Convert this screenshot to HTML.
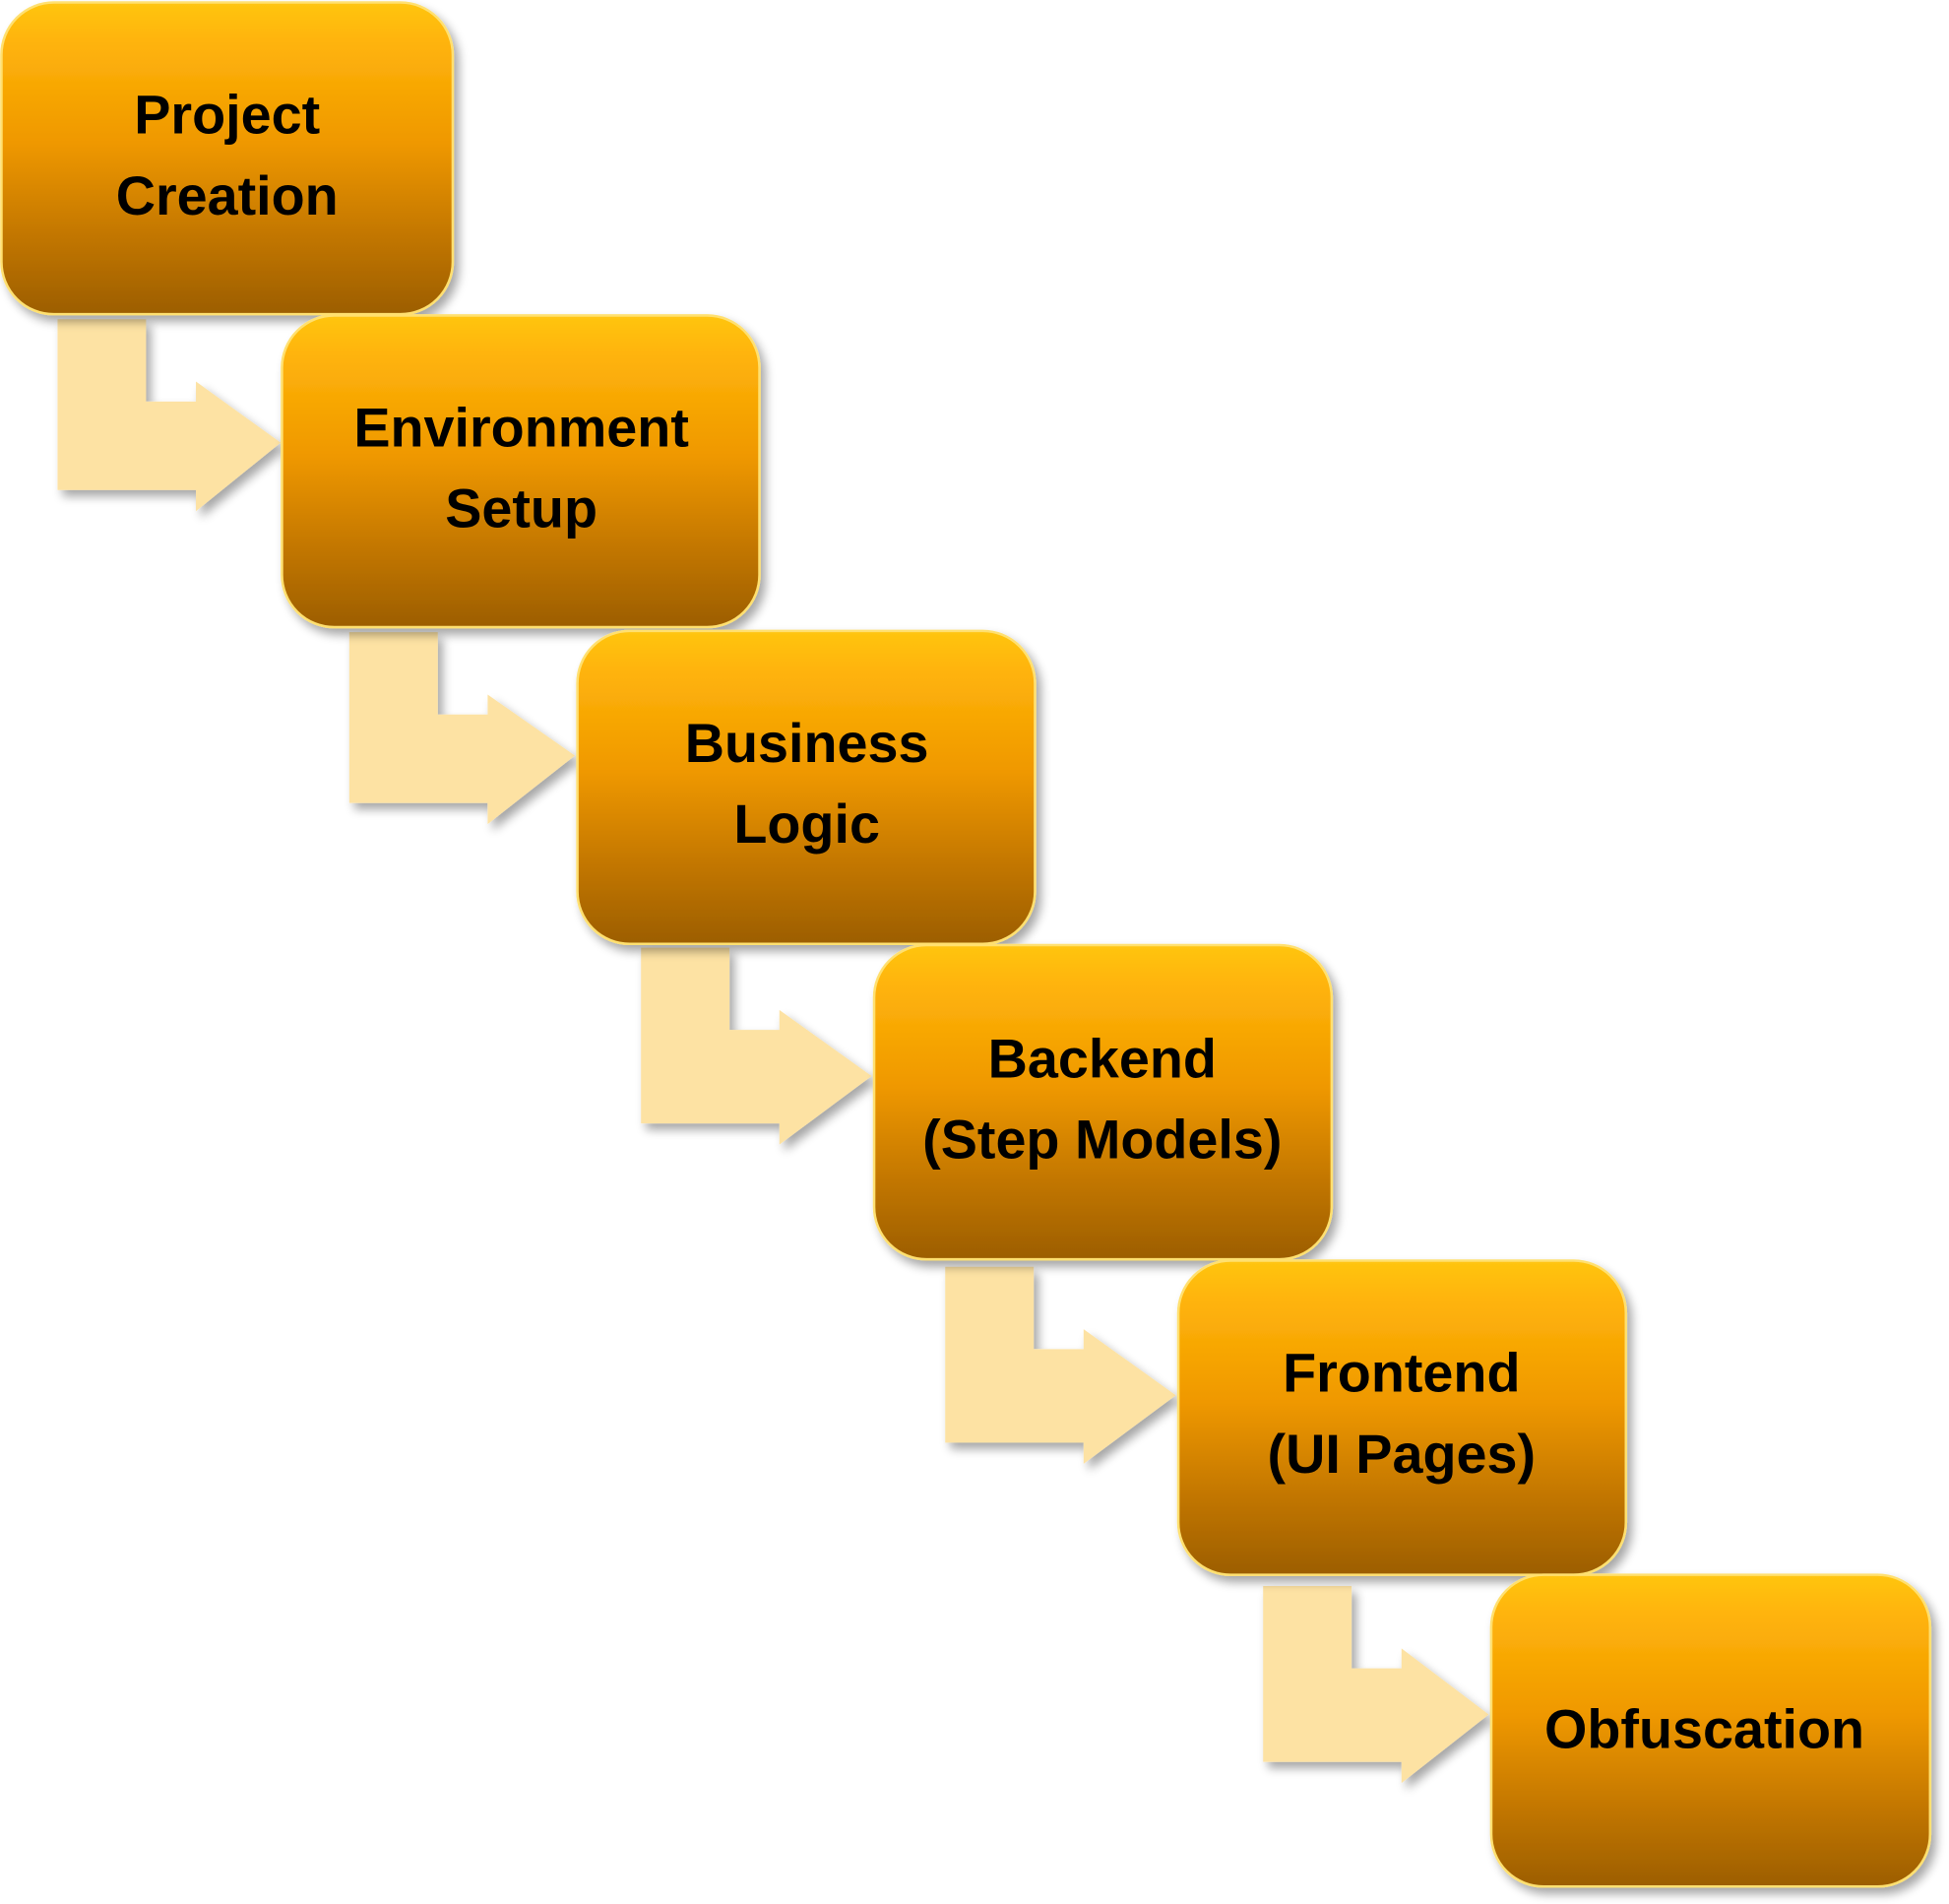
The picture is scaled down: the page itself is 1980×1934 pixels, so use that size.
<!DOCTYPE html>
<html><head><meta charset="utf-8"><style>
html,body{margin:0;padding:0;background:#fff;width:1980px;height:1934px;overflow:hidden}
svg{display:block}
text{font-family:"Liberation Sans",sans-serif;font-weight:bold;font-size:44px;fill:#000;text-anchor:middle}
</style></head><body>
<svg width="1980" height="1934" viewBox="0 0 1563 1527" xmlns="http://www.w3.org/2000/svg">
<defs>
<linearGradient id="g" x1="0" y1="0" x2="0" y2="1">
<stop offset="0" stop-color="#ffc512"/>
<stop offset="0.12" stop-color="#ffb40a"/>
<stop offset="0.45" stop-color="#ef9800"/>
<stop offset="0.75" stop-color="#c27600"/>
<stop offset="1" stop-color="#9c5e00"/>
</linearGradient>
<filter id="sh" x="-10%" y="-10%" width="130%" height="130%">
<feGaussianBlur in="SourceAlpha" stdDeviation="4"/>
<feOffset dx="4" dy="5"/>
<feComponentTransfer><feFuncA type="linear" slope="0.35"/></feComponentTransfer>
<feMerge><feMergeNode/><feMergeNode in="SourceGraphic"/></feMerge>
</filter>
</defs>
<g id="arrows" fill="#fde2a3" filter="url(#sh)">
<path d="M46 256 H117 V322 H157 V306 L225 355 L157 410 V393 H46 Z"/>
<path d="M280 507 H351 V573 H391 V557 L461 606 L391 661 V644 H280 Z"/>
<path d="M514 760 H585 V826 H625 V810 L699 863 L625 918 V901 H514 Z"/>
<path d="M758 1016 H829 V1082 H869 V1066 L943 1119 L869 1174 V1157 H758 Z"/>
<path d="M1013 1272 H1084 V1338 H1124 V1322 L1194 1375 L1124 1430 V1413 H1013 Z"/>
</g>
<g fill="url(#g)" filter="url(#sh)" stroke="#ffe070" stroke-width="2">
<rect x="1" y="2" width="362" height="250" rx="42"/>
<rect x="226" y="253" width="383" height="250" rx="42"/>
<rect x="463" y="506" width="367" height="251" rx="42"/>
<rect x="701" y="758" width="367" height="252" rx="42"/>
<rect x="945" y="1011" width="359" height="252" rx="42"/>
<rect x="1196" y="1263" width="352" height="250" rx="42"/>
</g>
<g>
<text x="182" y="107">Project</text><text x="182" y="172">Creation</text>
<text x="418" y="358">Environment</text><text x="418" y="423">Setup</text>
<text x="647" y="611">Business</text><text x="647" y="676">Logic</text>
<text x="884" y="864">Backend</text><text x="884" y="929">(Step Models)</text>
<text x="1124" y="1116">Frontend</text><text x="1124" y="1181">(UI Pages)</text>
<text x="1367" y="1402">Obfuscation</text>
</g>
</svg>
</body></html>
